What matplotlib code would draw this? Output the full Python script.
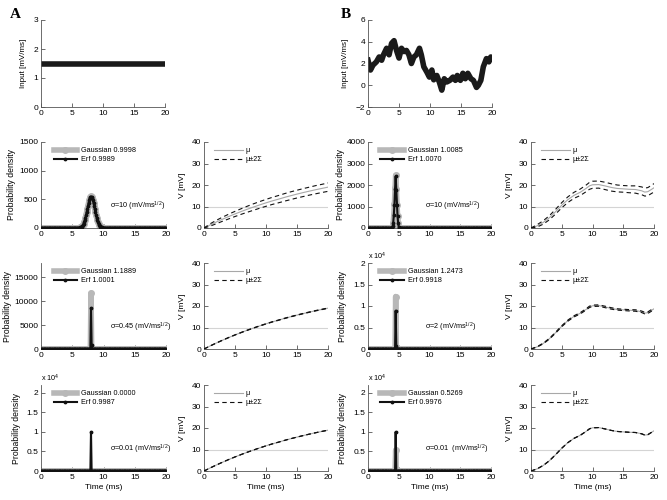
import numpy as np
import matplotlib
matplotlib.use('Agg')
import matplotlib.pyplot as plt
from matplotlib.ticker import FuncFormatter

plt.rcParams['font.family'] = ['Liberation Sans', 'DejaVu Sans']
plt.rcParams['font.size'] = 6
plt.rcParams['mathtext.fontset'] = 'custom'
plt.rcParams['mathtext.rm'] = 'Liberation Sans'
plt.rcParams['mathtext.it'] = 'Liberation Sans:italic'

# ---- input currents ----
inA_t = [0, 20]
inA_v = [1.5, 1.5]
inB_t = [0, 0.4, 0.8, 1.35, 1.8, 2.2, 2.5, 3.0, 3.4, 3.8, 4.2, 4.6, 5.0, 5.4, 5.8,
         6.2, 6.6, 7.0, 7.4, 7.8, 8.3, 8.6, 9.0, 9.5, 9.9, 10.3, 10.6, 11.1, 11.5,
         11.9, 12.3, 12.7, 13.2, 13.7, 14.1, 14.4, 14.9, 15.3, 15.7, 16.1, 16.6,
         17.0, 17.5, 17.8, 18.2, 18.6, 19.1, 19.5, 19.8, 20.0]
inB_v = [2.3, 1.4, 1.85, 2.15, 2.6, 2.3, 2.8, 3.4, 2.8, 3.85, 4.1, 3.2, 2.5, 3.4, 3.1,
         3.2, 2.8, 2.0, 2.6, 2.8, 3.4, 2.8, 1.7, 1.2, 0.75, 1.4, 0.5, 0.9, 0.3,
         -0.45, 0.6, 0.3, 0.45, 0.75, 0.45, 0.9, 0.45, 1.1, 0.6, 1.1, 0.6,
         0.45, -0.2, 0.0, 0.45, 1.7, 2.45, 2.15, 2.6, 2.5]

# ---- mean voltage and 2*Sigma (for sigma = 10) ----
muA_t = list(range(21))
muA = [0, 1.43, 2.8, 4.1, 5.35, 6.54, 7.67, 8.75, 9.77, 10.76, 11.7, 12.6, 13.4,
       14.25, 15.03, 15.77, 16.48, 17.15, 17.8, 18.4, 19.0]
spreadA = [0, 0.55, 0.8, 0.95, 1.1, 1.2, 1.3, 1.4, 1.5, 1.55, 1.6, 1.65, 1.7, 1.75,
           1.8, 1.8, 1.85, 1.85, 1.9, 1.9, 1.95]
muB_t = [0, 1, 2, 3, 4, 5, 6, 7, 8, 9, 9.5, 10, 11, 12, 13, 14, 15, 16, 17, 18,
         18.5, 19, 19.5, 20]
muB = [0, 1.0, 2.6, 4.8, 7.6, 10.6, 13.2, 15.2, 16.6, 18.5, 19.6, 20.1, 20.2, 19.6,
       18.9, 18.4, 18.2, 18.0, 17.9, 17.3, 16.7, 16.9, 17.8, 18.7]
spreadB = [0, 0.55, 0.8, 0.95, 1.1, 1.2, 1.3, 1.4, 1.5, 1.55, 1.6, 1.65, 1.65, 1.7,
           1.7, 1.6, 1.55, 1.6, 1.7, 1.8, 1.85, 1.9, 1.9, 1.95]

sigmasA = [10, 0.45, 0.01]
sigmasB = [10, 2, 0.01]
sigma_labels_A = ['σ=10 (mV/ms$^{1/2}$)', 'σ=0.45 (mV/ms$^{1/2}$)', 'σ=0.01 (mV/ms$^{1/2}$)']
sigma_labels_B = ['σ=10 (mV/ms$^{1/2}$)', 'σ=2 (mV/ms$^{1/2}$)', 'σ=0.01  (mV/ms$^{1/2}$)']

# ---- first passage densities: (start time, values at 0.1 ms steps) ----
gaussA10 = (6.0, [2, 3.5, 6, 10, 16, 24, 36, 53, 74, 102, 137, 179, 226, 278, 334, 389,
                  440, 485, 520, 542, 550, 542, 520, 485, 440, 389, 334, 278, 226, 179,
                  137, 102, 74, 53, 36, 24, 16, 10, 6, 3.5, 2])
erfA10 = (6.0, [2, 3, 5, 9, 15, 23, 35, 52, 73, 100, 135, 177, 224, 276, 332, 387,
                438, 483, 518, 540, 548, 540, 518, 483, 438, 387, 332, 276, 224, 177,
                135, 100, 73, 52, 35, 23, 15, 9, 5, 3, 2])
gaussB10 = (3.9, [20, 80, 250, 620, 1100, 1850, 2450, 1800, 1080, 580, 230, 60, 10])
erfB10 = (3.9, [15, 70, 240, 610, 1090, 1830, 2400, 1790, 1070, 570, 225, 55, 8])
gaussA045 = (8.0, [11700])
erfA045 = (8.0, [8600, 900])
gaussB2 = (4.5, [12200])
erfB2 = (4.5, [8900, 800])
gaussA001 = (8.0, [0])
erfA001 = (8.0, [10000])
gaussB001 = (4.5, [5300])
erfB001 = (4.5, [10000])

legA = [('Gaussian 0.9998', 'Erf 0.9989'), ('Gaussian 1.1889', 'Erf 1.0001'),
        ('Gaussian 0.0000', 'Erf 0.9987')]
legB = [('Gaussian 1.0085', 'Erf 1.0070'), ('Gaussian 1.2473', 'Erf 0.9918'),
        ('Gaussian 0.5269', 'Erf 0.9976')]

t_grid = np.round(np.arange(201) * 0.1, 1)

GRAY = '#b8b8b8'


def density(bump):
    start, vals = bump
    d = np.zeros(t_grid.size)
    i = int(round(start * 10))
    d[i:i + len(vals)] = vals
    return d


fig = plt.figure(figsize=(6.67, 5.0), dpi=100)


def px_axes(left, top, width, height):
    return fig.add_axes([left / 667, 1 - (top + height) / 500, width / 667, height / 500])


def style(ax):
    for s in ('top', 'right'):
        ax.spines[s].set_visible(False)
    for s in ('left', 'bottom'):
        ax.spines[s].set_color('#555555')
        ax.spines[s].set_linewidth(0.6)
    ax.tick_params(direction='in', length=3, width=0.6, labelsize=6, pad=2,
                   color='#555555')
    ax.set_xlim(0, 20)
    ax.set_xticks([0, 5, 10, 15, 20])


cols_x = [41, 204, 368, 531]
widths = [125, 124, 123, 123]
rows_top = [142, 263, 385]
H = 86

# input panels
for left, tt, vv, ylim, yt in [(41, inA_t, inA_v, (0, 3), [0, 1, 2, 3]),
                               (368, inB_t, inB_v, (-2, 6), [-2, 0, 2, 4, 6])]:
    ax = px_axes(left, 20, 124, 87)
    style(ax)
    ax.plot(tt, vv, color='#1a1a1a', lw=4, solid_joinstyle='round')
    ax.set_ylim(*ylim)
    ax.set_yticks(yt)
    ax.set_ylabel('Input [mV/ms]', fontsize=5.8, labelpad=5)

dens_A = [(gaussA10, erfA10), (gaussA045, erfA045), (gaussA001, erfA001)]
dens_B = [(gaussB10, erfB10), (gaussB2, erfB2), (gaussB001, erfB001)]
ylims_A = [(0, 1500), (0, 18000), (0, 22000)]
yticks_A = [[0, 500, 1000, 1500], [0, 5000, 10000, 15000], [0, 5000, 10000, 15000, 20000]]
ylims_B = [(0, 4000), (0, 20000), (0, 22000)]
yticks_B = [[0, 1000, 2000, 3000, 4000], [0, 5000, 10000, 15000, 20000],
            [0, 5000, 10000, 15000, 20000]]
sci_A = [False, False, True]
sci_B = [False, True, True]
labx_A = [-0.2, -0.23, -0.16]
labx_B = [-0.19, -0.17, -0.17]

panels = [
    (0, dens_A, ylims_A, yticks_A, sci_A, labx_A, legA, sigma_labels_A, sigmasA, muA_t, muA, spreadA, 0.55),
    (2, dens_B, ylims_B, yticks_B, sci_B, labx_B, legB, sigma_labels_B, sigmasB, muB_t, muB, spreadB, 0.46),
]

for ci, dens, ylims, yticks, scis, labx, legs, slabels, sigmas, mt, mu, spread, tx in panels:
    for r in range(3):
        top = rows_top[r]
        # density panel
        ax = px_axes(cols_x[ci], top, widths[ci], H)
        style(ax)
        g, e = dens[r]
        ax.plot(t_grid, density(g), color=GRAY, lw=4, marker='o', ms=4,
                mfc=GRAY, mec=GRAY, label=legs[r][0], zorder=2)
        ax.plot(t_grid, density(e), color='#111111', lw=1.5, marker='.', ms=3.5,
                label=legs[r][1], zorder=3)
        ax.set_ylim(*ylims[r])
        ax.set_yticks(yticks[r])
        if scis[r]:
            ax.yaxis.set_major_formatter(FuncFormatter(lambda v, p: '%g' % (v / 1e4)))
            ax.text(0.0, 1.01, 'x 10$^4$', transform=ax.transAxes, fontsize=5.2,
                    ha='left', va='bottom')
        ax.set_ylabel('Probability density', fontsize=6.2)
        ax.yaxis.set_label_coords(labx[r], 0.5)
        ax.legend(loc='upper left', bbox_to_anchor=(0.06, 1.0), frameon=False,
                  fontsize=5.2, handlelength=3.3, labelspacing=0.3, handletextpad=0.5,
                  borderaxespad=0.3, numpoints=1)
        ax.text(tx, 0.25, slabels[r], transform=ax.transAxes, fontsize=5.2,
                ha='left', va='center')
        if r == 2:
            ax.set_xlabel('Time (ms)', fontsize=6, labelpad=2)

        # voltage panel
        ax = px_axes(cols_x[ci + 1], top, widths[ci + 1], H)
        style(ax)
        ax.axhline(10, color='#d4d4d4', lw=0.8, zorder=1)
        mu_a = np.array(mu)
        sp = np.array(spread) * sigmas[r] / 10
        ax.plot(mt, mu_a, color='#a8a8a8', lw=0.8, label='μ', zorder=2)
        ax.plot(mt, mu_a + sp, color='#111111', lw=0.8, dashes=(4, 3),
                label='μ±2Σ', zorder=3)
        ax.plot(mt, mu_a - sp, color='#111111', lw=0.8, dashes=(4, 3), zorder=3)
        ax.set_ylim(0, 40)
        ax.set_yticks([0, 10, 20, 30, 40])
        ax.set_ylabel('V [mV]', fontsize=6, labelpad=4)
        ax.legend(loc='upper left', bbox_to_anchor=(0.04, 1.0), frameon=False,
                  fontsize=5.2, handlelength=4.0, labelspacing=0.3, handletextpad=0.3,
                  borderaxespad=0.3)
        if r == 2:
            ax.set_xlabel('Time (ms)', fontsize=6, labelpad=2)

fig.text(10 / 667, 1 - 18 / 500, 'A', fontsize=11, fontweight='bold',
         family='Liberation Serif', ha='left', va='baseline')
fig.text(341 / 667, 1 - 18 / 500, 'B', fontsize=11, fontweight='bold',
         family='Liberation Serif', ha='left', va='baseline')

fig.savefig('out.png', dpi=100)
